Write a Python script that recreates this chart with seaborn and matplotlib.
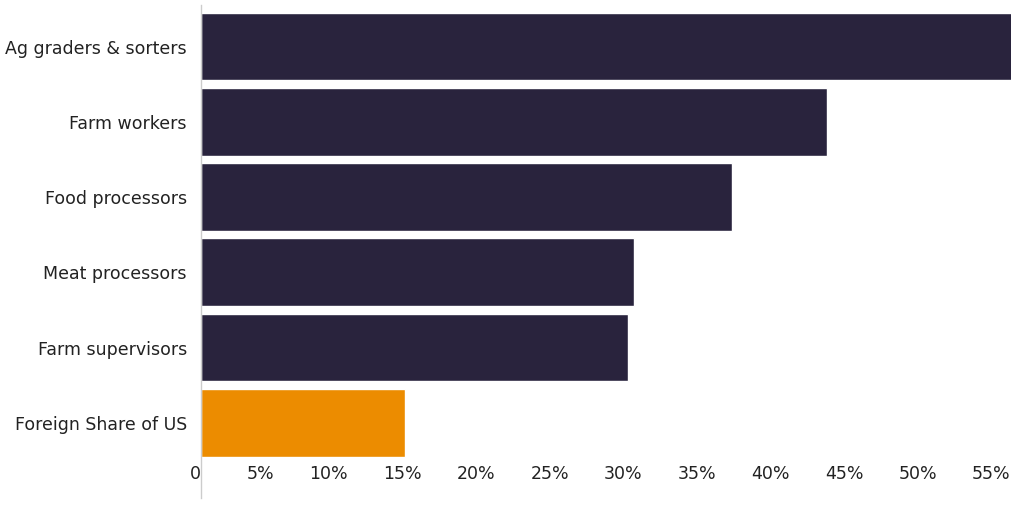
import seaborn as sns
import matplotlib.pyplot as plt
import pandas as pd

categories = ['Ag graders & sorters', 'Farm workers', 'Food processors',
              'Meat processors', 'Farm supervisors', 'Foreign Share of US']
shares = [57.0, 42.5, 36.1, 29.4, 29.0, 13.9]
tick_vals = [0, 5, 10, 15, 20, 25, 30, 35, 40, 45, 50, 55]
tick_labels = ['0'] + [f'{v}%' for v in tick_vals[1:]]

df = pd.DataFrame({'cat': categories, 'share': shares})
colors = ['#29233d'] * 5 + ['#ec8c00']

sns.set_style('white')
plt.rcParams['font.family'] = ['DejaVu Sans']

fig = plt.figure(figsize=(10.24, 5.12), dpi=100)
ax = fig.add_axes([0.196, 0.027, 0.791, 0.963])
sns.barplot(data=df, x='share', y='cat', hue='cat', palette=colors,
            legend=False, width=0.9, saturation=1, ax=ax)

ax.set_xlim(0, 55)
ax.set_ylim(6.0, -0.55)
ax.set_xticks(tick_vals)
ax.set_xticklabels(tick_labels, ha='right')
ax.tick_params(axis='both', length=0, labelsize=12.5, colors='#222222')
ax.tick_params(axis='y', pad=10)
ax.tick_params(axis='x', pad=-24)
ax.set_xlabel('')
ax.set_ylabel('')
for s in ['top', 'right', 'bottom']:
    ax.spines[s].set_visible(False)
ax.spines['left'].set_color('#cccccc')
ax.spines['left'].set_linewidth(1)

fig.savefig('out.png', dpi=100)
